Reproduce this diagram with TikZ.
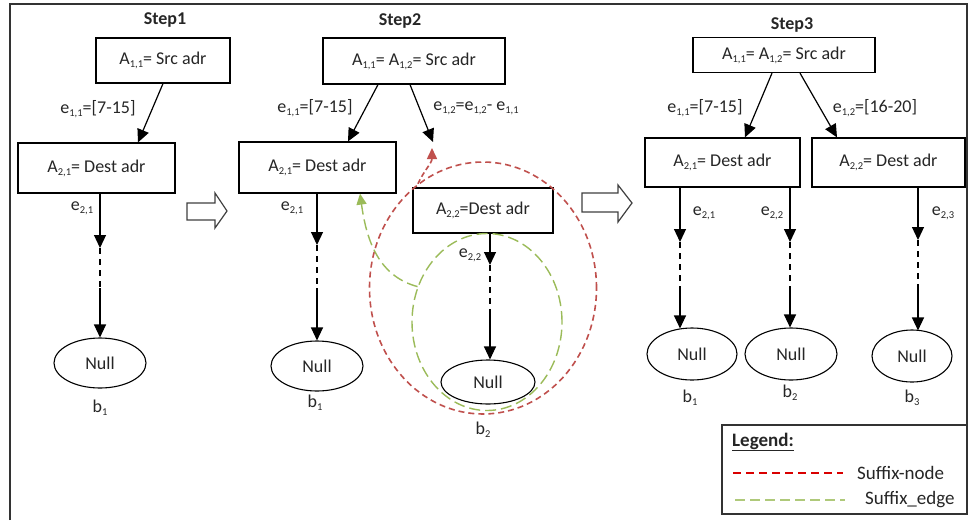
\documentclass[tikz,border=0pt]{standalone}
\usepackage{fontspec}
\setmainfont{Carlito}
\usetikzlibrary{arrows.meta,shapes.geometric}
\definecolor{sred}{HTML}{C0504D}
\definecolor{sgreen}{HTML}{9BBB59}
\newcommand{\sbs}[1]{\raisebox{-0.35ex}{\fontsize{10.5}{10.5}\selectfont #1}}
\begin{document}
\begin{tikzpicture}[x=1pt,y=-1pt,
  every node/.style={font=\fontsize{18}{21}\selectfont, text=black!85, inner sep=0pt},
  abox/.style={draw=black, line width=1.2pt, rectangle},
  nullnode/.style={draw=black, ellipse, line width=1.1pt, minimum width=92pt, minimum height=50pt},
  steptitle/.style={font=\fontsize{18}{21}\selectfont\bfseries},
  arr/.style={-{Triangle[length=13pt,width=12pt]}, line width=1.2pt},
  dashseg/.style={line width=1.2pt, dash pattern=on 6pt off 5pt},
  blockarrow/.style={draw=black!75, line width=1.2pt, fill=white},
  rednode/.style={draw=sred, line width=1.6pt, dash pattern=on 6pt off 4pt},
  greenedge/.style={draw=sgreen, line width=1.4pt, dash pattern=on 11pt off 5pt},
  legtext/.style={font=\fontsize{19}{22}\selectfont, anchor=west}
]
\useasboundingbox (0,0) rectangle (969,520);
\fill[white] (0,0) rectangle (969,520);
% outer frame
\draw[line width=1.4pt, black!80] (10,520) -- (10,4) -- (967,4) -- (967,425);

% ---------------- Step 1 ----------------
\node[steptitle] (t1) at (165,20) {Step1};
\node[abox, minimum width=134pt, minimum height=45pt] (s1a) at (163,60.5) {A\sbs{1,1}= Src adr};
\node[abox, minimum width=157pt, minimum height=50pt] (s1b) at (96.5,168) {A\sbs{2,1}= Dest adr};
\node (l1) at (98,109) {e\sbs{1,1}=[7-15]};
\draw[arr] (s1a.south) -- ([xshift=41.5pt]s1b.north);
\node[nullnode] (n1) at (100,363) {Null};
\node (b1) at (100,408) {b\sbs{1}};
\coordinate (a1) at (100,248);
\coordinate (d1) at (100,288);
\draw[arr] (s1b.south -| a1) -- (a1);
\draw[dashseg] (a1) -- (d1);
\draw[arr] (d1) -- (n1.north);
\node (e1) at (82,208) {e\sbs{2,1}};

% block arrow 1
\draw[blockarrow] (187,203) -- (215,203) -- (215,193) -- (227,211) -- (215,228) -- (215,220) -- (187,220) -- cycle;

% ---------------- Step 2 ----------------
\node[steptitle] (t2) at (400,21) {Step2};
\node[abox, minimum width=182pt, minimum height=46pt] (s2a) at (414,61) {A\sbs{1,1}= A\sbs{1,2}= Src adr};
\node[abox, minimum width=157pt, minimum height=51pt] (s2b) at (317.5,167.5) {A\sbs{2,1}= Dest adr};
\node[abox, minimum width=140pt, minimum height=45pt] (s2c) at (483,210.5) {A\sbs{2,2}=Dest adr};
\node (l2) at (315,108) {e\sbs{1,1}=[7-15]};
\node (l3) at (476,108) {e\sbs{1,2}=e\sbs{1,2}- e\sbs{1,1}};
\coordinate (e2end) at (433,142);
\draw[arr] ([xshift=-36pt]s2a.south) -- ([xshift=30.5pt]s2b.north);
\draw[arr] ([xshift=-4pt]s2a.south) -- (e2end);

\node[nullnode] (n2) at (317,366) {Null};
\node (b2a) at (315,403) {b\sbs{1}};
\coordinate (a2) at (317,245);
\coordinate (d2) at (317,288);
\draw[arr] (s2b.south -| a2) -- (a2);
\draw[dashseg] (a2) -- (d2);
\draw[arr] (d2) -- (n2.north);
\node (e2) at (292,208) {e\sbs{2,1}};

\node[nullnode, minimum width=94pt, minimum height=44pt] (n3) at (488,382) {Null};
\node (b2b) at (483,430) {b\sbs{2}};
\coordinate (a3) at (490,265);
\coordinate (d3) at (490,313);
\draw[arr] (s2c.south -| a3) -- (a3);
\draw[dashseg] (a3) -- (d3);
\draw[arr] (d3) -- (n3.north -| a3);
\node (e3) at (470,255) {e\sbs{2,2}};

% suffix node (red) and suffix edge (green)
\node[rednode, ellipse, minimum width=227pt, minimum height=252pt] (sn) at (483,288) {};
\node[greenedge, ellipse, minimum width=150pt, minimum height=177pt] (se) at (487,322) {};
\coordinate (rt) at (432,148);
\draw[rednode, dash pattern=on 5pt off 3pt, -{Triangle[length=11pt,width=10pt]}] (sn.122) to[out=65,in=-90] (rt);
\draw[greenedge, -{Triangle[length=11pt,width=10pt]}] (se.153) to[out=165,in=-82] ([xshift=42.5pt]s2b.south);

% block arrow 2
\draw[blockarrow] (582,193) -- (618,193) -- (618,185) -- (632,203) -- (618,222) -- (618,212) -- (582,212) -- cycle;

% ---------------- Step 3 ----------------
\node[steptitle] (t3) at (792,25) {Step3};
\node[abox, minimum width=182pt, minimum height=35pt] (s3a) at (784,55) {A\sbs{1,1}= A\sbs{1,2}= Src adr};
\node[abox, minimum width=155pt, minimum height=49pt] (s3b) at (722.5,162.5) {A\sbs{2,1}= Dest adr};
\node[abox, minimum width=153pt, minimum height=49pt] (s3c) at (888.5,162.5) {A\sbs{2,2}= Dest adr};
\node (l4) at (705,108) {e\sbs{1,1}=[7-15]};
\node (l5) at (875,108) {e\sbs{1,2}=[16-20]};
\draw[arr] ([xshift=-12pt]s3a.south) -- ([xshift=22.5pt]s3b.north);
\draw[arr] ([xshift=16pt]s3a.south) -- ([xshift=-51.5pt]s3c.north);

\node[nullnode, minimum width=90pt, minimum height=52pt] (n4) at (692,354) {Null};
\node[nullnode, minimum width=92pt, minimum height=52pt] (n5) at (791,354) {Null};
\node[nullnode, minimum width=80pt, minimum height=52pt] (n6) at (912,356) {Null};
\node (b3a) at (690,398) {b\sbs{1}};
\node (b3b) at (790,393) {b\sbs{2}};
\node (b3c) at (912,398) {b\sbs{3}};

\coordinate (a4) at (680,242);
\coordinate (d4) at (680,290);
\draw[arr] (s3b.south -| a4) -- (a4);
\draw[dashseg] (a4) -- (d4);
\draw[arr] (d4) -- ([yshift=-1pt]n4.north -| a4);

\coordinate (a5) at (790,242);
\coordinate (d5) at (790,290);
\draw[arr] (s3b.south -| a5) -- (a5);
\draw[dashseg] (a5) -- (d5);
\draw[arr] (d5) -- (n5.north -| a5);

\coordinate (a6) at (918,240);
\coordinate (d6) at (918,290);
\draw[arr] (s3c.south -| a6) -- (a6);
\draw[dashseg] (a6) -- (d6);
\draw[arr] (d6) -- ([yshift=-1pt]n6.north -| a6);

\node (e4) at (704,213) {e\sbs{2,1}};
\node (e5) at (772,213) {e\sbs{2,2}};
\node (e6) at (943,213) {e\sbs{2,3}};

% ---------------- Legend ----------------
\draw[line width=1.2pt, black!80, fill=white] (722,425) rectangle (967,514);
\node[legtext, font=\fontsize{19}{22}\selectfont\bfseries] (lg) at (732,442) {\underline{Legend:}};
\node[legtext] (ln1) at (857,473) {Suffix-node};
\node[legtext] (ln2) at (865,500) {Suffix\_edge};
\coordinate (lr) at (733,473);
\coordinate (lgr) at (735,500);
\draw[draw=red!85!black, line width=1.6pt, dash pattern=on 8pt off 5pt] (lr) -- ([xshift=-14pt]ln1.west);
\draw[draw=sgreen!80, line width=1.4pt, dash pattern=on 10pt off 5pt] (lgr) -- ([xshift=-20pt]ln2.west);
\end{tikzpicture}
\end{document}
